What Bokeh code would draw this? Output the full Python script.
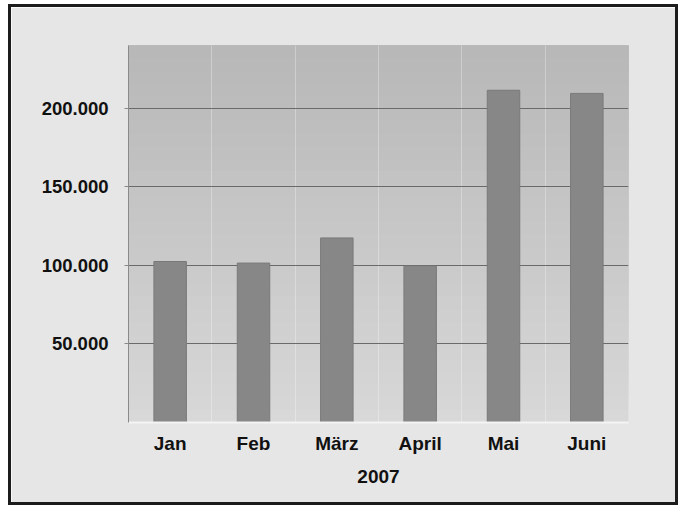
from bokeh.plotting import figure
from bokeh.models import FixedTicker, BoxAnnotation, ColumnDataSource, Range1d
from bokeh.embed import file_html
from bokeh.resources import INLINE

months = ["Jan", "Feb", "März", "April", "Mai", "Juni"]
values = [102500, 101500, 117500, 99500, 211500, 209500]
y_ticks = [50000, 100000, 150000, 200000]
y_tick_labels = ["50.000", "100.000", "150.000", "200.000"]
x_title = "2007"

src = ColumnDataSource(dict(month=months, value=values))

p = figure(x_range=months, y_range=Range1d(0, 240000),
           width=670, height=501, output_backend="svg", toolbar_location=None,
           min_border_left=117, min_border_right=53, min_border_top=38, min_border_bottom=86,
           styles={"border": "3px solid #1c1c1c"}, margin=(4, 0, 0, 8))

p.border_fill_color = "#e6e6e6"
p.background_fill_color = "#d8d8d8"
p.outline_line_color = None

# vertical gradient of the plot area (styling bands, stacked to avoid seams)
n = 30
for i in range(n):
    t = i / (n - 1)
    c = int(0xd8 - (0xd8 - 0xb8) * t)
    p.add_layout(BoxAnnotation(bottom=240000 * i / n, top=240000,
                               fill_color="#%02x%02x%02x" % (c, c, c), fill_alpha=1,
                               line_color=None, level="image"))

p.vbar(x="month", top="value", width=0.39, source=src,
       fill_color="#878787", line_color="#7a7a7a", line_width=1)

p.ygrid.ticker = FixedTicker(ticks=y_ticks)
p.ygrid.grid_line_color = "#6a6a6a"
p.ygrid.grid_line_width = 1
p.xgrid.ticker = FixedTicker(ticks=[1, 2, 3, 4, 5])
p.xgrid.grid_line_color = "#ffffff"
p.xgrid.grid_line_alpha = 0.3
p.xgrid.grid_line_width = 1

p.yaxis.ticker = FixedTicker(ticks=y_ticks)
p.yaxis.major_label_overrides = {t: l for t, l in zip(y_ticks, y_tick_labels)}
p.yaxis.axis_line_color = "#8a8a8a"
p.yaxis.major_tick_line_color = "#8a8a8a"
p.yaxis.major_tick_out = 4
p.yaxis.major_tick_in = 0
p.yaxis.minor_tick_line_color = None
p.yaxis.major_label_standoff = 16
p.yaxis.major_label_text_font = "Liberation Sans"
p.yaxis.major_label_text_font_style = "bold"
p.yaxis.major_label_text_font_size = "18.5px"
p.yaxis.major_label_text_color = "#111111"

p.xaxis.axis_line_color = "#f4f4f4"
p.xaxis.axis_line_width = 2
p.xaxis.major_tick_line_color = None
p.xaxis.major_label_standoff = 4
p.xaxis.major_label_text_font = "Liberation Sans"
p.xaxis.major_label_text_font_style = "bold"
p.xaxis.major_label_text_font_size = "19px"
p.xaxis.major_label_text_color = "#111111"
p.xaxis.axis_label = x_title
p.xaxis.axis_label_standoff = 13
p.xaxis.axis_label_text_font = "Liberation Sans"
p.xaxis.axis_label_text_font_style = "bold"
p.xaxis.axis_label_text_font_size = "19px"
p.xaxis.axis_label_text_color = "#111111"

open("out.html", "w").write(file_html(p, INLINE))
